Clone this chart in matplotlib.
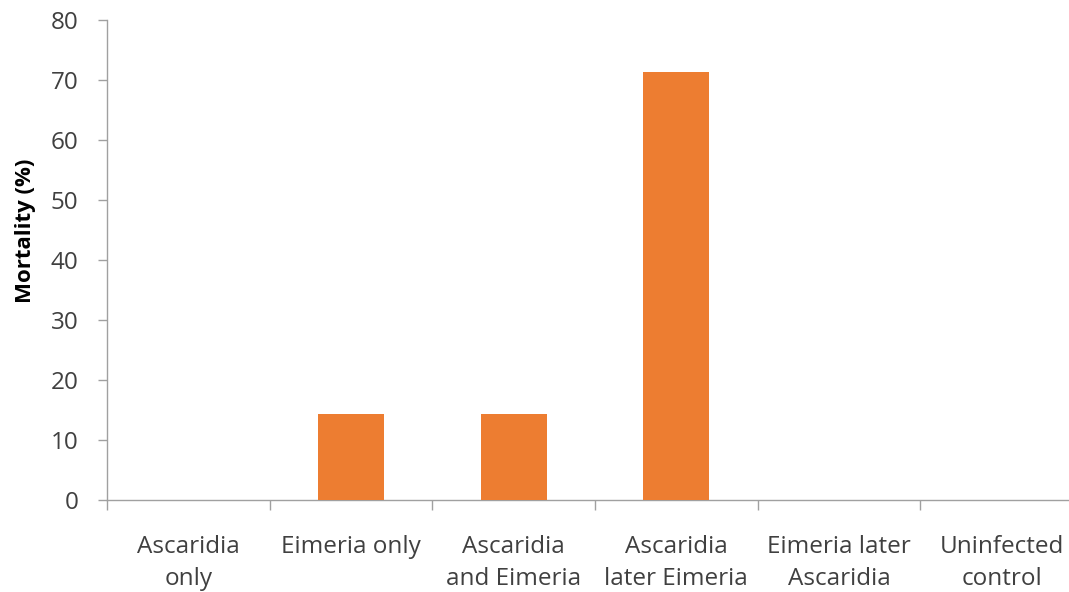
import matplotlib
matplotlib.use("Agg")
import matplotlib.pyplot as plt
import numpy as np

categories = ["Ascaridia\nonly", "Eimeria only", "Ascaridia\nand Eimeria",
              "Ascaridia\nlater Eimeria", "Eimeria later\nAscaridia", "Uninfected\ncontrol"]
mortality = [0, 14.3, 14.3, 71.4, 0, 0]
y_ticks = [0, 10, 20, 30, 40, 50, 60, 70, 80]

plt.rcParams['font.family'] = ['Open Sans', 'DejaVu Sans']

fig = plt.figure(figsize=(10.69, 5.92), dpi=100)
# plot area runs a little past the right edge of the figure
ax = fig.add_axes([0.1001, 0.1554, 0.9130, 0.8108])

x = np.arange(len(categories))
ax.bar(x, mortality, width=0.406, color="#ED7D31", zorder=3)

ax.set_xlim(-0.5, len(categories) - 0.5)
ax.set_ylim(0, 80)
ax.set_yticks(y_ticks)
ax.set_yticklabels([str(v) for v in y_ticks], fontsize=17.5, color="#404040")

ax.set_xticks(x)
ax.set_xticklabels(categories, fontsize=17.5, color="#404040", linespacing=1.45)
ax.set_xticks(np.arange(-0.5, len(categories)), minor=True)
ax.tick_params(axis="x", which="major", length=0, pad=25)
ax.tick_params(axis="x", which="minor", length=7, color="#A0A0A0", width=1)
ax.tick_params(axis="y", length=6.5, color="#A0A0A0", width=1, pad=14)

for side in ("top", "right"):
    ax.spines[side].set_visible(False)
for side in ("left", "bottom"):
    ax.spines[side].set_color("#A0A0A0")
    ax.spines[side].set_linewidth(1)

fig.text(0.0235, 1 - 231 / 592, "Mortality (%)", rotation=90, fontsize=16,
         fontweight="bold", color="black", ha="center", va="center")

fig.savefig("out.png", dpi=100)
